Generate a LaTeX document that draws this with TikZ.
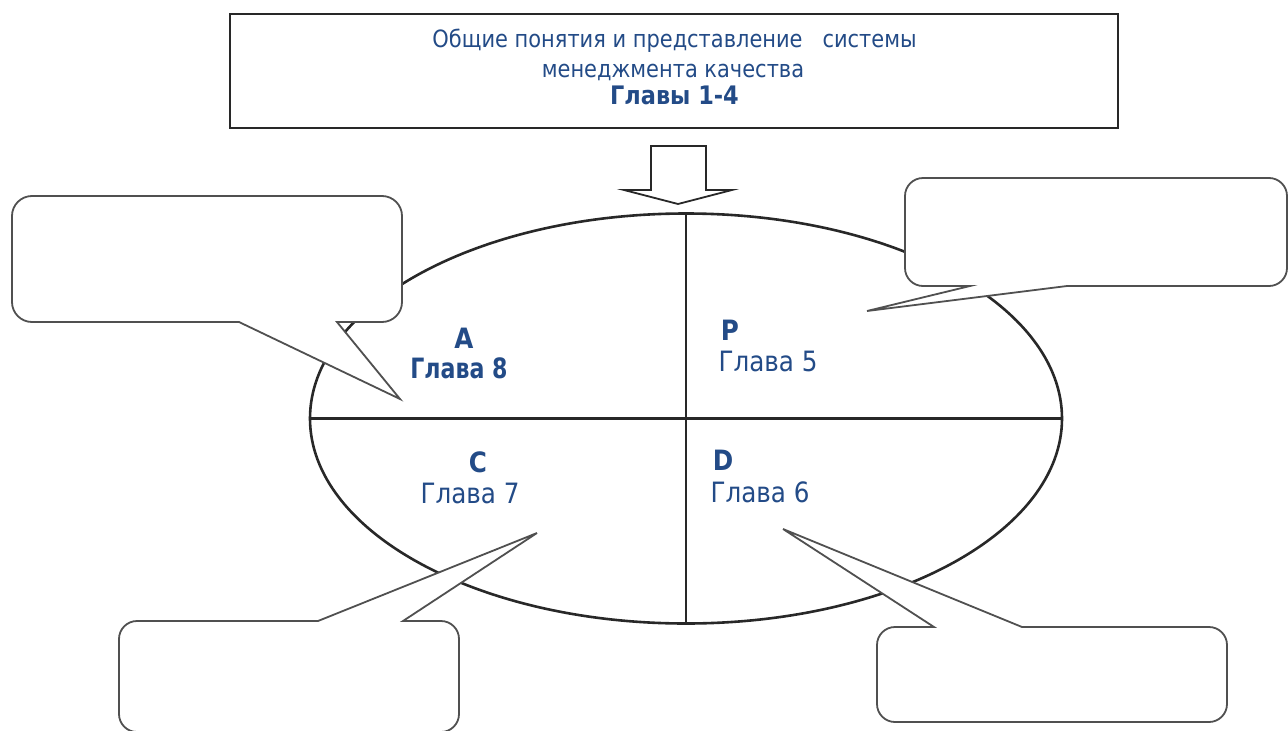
\documentclass[tikz,border=0pt]{standalone}
\usepackage{fontspec}
\setmainfont{DejaVu Sans}[FakeStretch=0.88]
\newfontfamily\narrowbold{DejaVu Sans Bold}[FakeStretch=0.79]
\usetikzlibrary{shapes.geometric}

\definecolor{ink}{RGB}{35,75,135}
\definecolor{rim}{RGB}{40,40,40}
\definecolor{bubbleline}{RGB}{80,80,80}

\tikzset{
  titlebox/.style={draw=rim, line width=2pt, fill=white, minimum width=888pt, minimum height=114pt, inner sep=0pt},
  titletext/.style={text=ink, anchor=base, inner sep=0pt, font=\fontsize{23.8}{28}\selectfont},
  pdca/.style={draw=rim, line width=2.6pt, ellipse, minimum width=752pt, minimum height=410pt, inner sep=0pt},
  divider/.style={draw=rim, line width=2.8pt},
  letter/.style={text=ink, anchor=base, inner sep=0pt, font=\fontsize{28}{32}\selectfont\bfseries},
  boldchapter/.style={text=ink, anchor=base, inner sep=0pt, font=\fontsize{28}{32}\selectfont\narrowbold},
  chapter/.style={text=ink, anchor=base, inner sep=0pt, font=\fontsize{28}{32}\selectfont},
  blockarrow/.style={draw=rim, line width=1.8pt, fill=white, line join=miter},
  bubble/.style={draw=bubbleline, line width=1.8pt, fill=white, line join=miter}
}

\begin{document}
\begin{tikzpicture}[x=1pt, y=-1pt]
  \useasboundingbox (0,0) rectangle (1288,731);

  % PDCA cycle: ellipse split into four quadrants
  \node[pdca] (cycle) at (686,418.5) {};
  \draw[divider] (cycle.north) -- (cycle.south);
  \draw[divider] (cycle.west) -- (cycle.east);

  % quadrant labels
  \node[letter]      (la) at (464,348) {A};
  \node[boldchapter] (ca) at (459,378) {Глава 8};
  \node[letter]      (lp) at (730,340) {P};
  \node[chapter]     (cp) at (768,371) {Глава 5};
  \node[letter]      (lc) at (478,472) {C};
  \node[chapter]     (cc) at (470,503) {Глава 7};
  \node[letter]      (ld) at (723,470) {D};
  \node[chapter]     (cd) at (760,502) {Глава 6};

  % block arrow from the title into the cycle
  \draw[blockarrow] (651,146) -- (706,146) -- (706,190) -- (732,190)
        -- (678,204) -- (624,190) -- (651,190) -- cycle;

  % speech bubbles
  % top left
  \draw[bubble] (32,196) -- (382,196) arc[start angle=270, end angle=360, radius=20]
        -- (402,302) arc[start angle=0, end angle=90, radius=20]
        -- (337,322) -- (400,399) -- (239,322)
        -- (32,322) arc[start angle=90, end angle=180, radius=20]
        -- (12,216) arc[start angle=180, end angle=270, radius=20] -- cycle;
  % top right
  \draw[bubble] (923,178) -- (1269,178) arc[start angle=270, end angle=360, radius=18]
        -- (1287,268) arc[start angle=0, end angle=90, radius=18]
        -- (1067,286) -- (867,311) -- (970,286)
        -- (923,286) arc[start angle=90, end angle=180, radius=18]
        -- (905,196) arc[start angle=180, end angle=270, radius=18] -- cycle;
  % bottom left
  \draw[bubble] (137,621) -- (318,621) -- (537,533) -- (403,621)
        -- (441,621) arc[start angle=270, end angle=360, radius=18]
        -- (459,714) arc[start angle=0, end angle=90, radius=18]
        -- (137,732) arc[start angle=90, end angle=180, radius=18]
        -- (119,639) arc[start angle=180, end angle=270, radius=18] -- cycle;
  % bottom right
  \draw[bubble] (895,627) -- (934,627) -- (783,529) -- (1022,627)
        -- (1209,627) arc[start angle=270, end angle=360, radius=18]
        -- (1227,704) arc[start angle=0, end angle=90, radius=18]
        -- (895,722) arc[start angle=90, end angle=180, radius=18]
        -- (877,645) arc[start angle=180, end angle=270, radius=18] -- cycle;

  % title
  \node[titlebox] (title) at (674,71) {};
  \node[titletext] (t1) at (674.5,47) {Общие понятия и представление\ \ \ системы};
  \node[titletext] (t2) at (673,77) {менеджмента качества};
  \node[titletext, font=\fontsize{25.5}{30}\selectfont\bfseries] (t3) at (674.5,104) {Главы 1-4};
\end{tikzpicture}
\end{document}
